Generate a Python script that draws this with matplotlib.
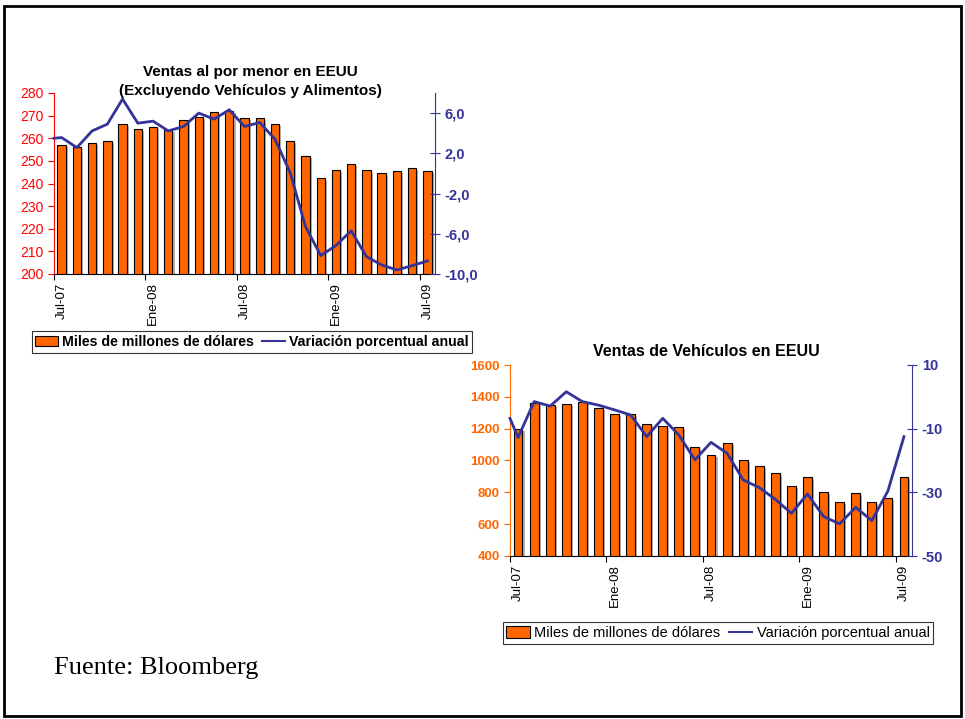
import numpy as np
import matplotlib
matplotlib.use("Agg")
import matplotlib.pyplot as plt
import matplotlib.patheffects as pe
from matplotlib.patches import Rectangle, Patch
from matplotlib.lines import Line2D

plt.rcParams['font.family'] = ['Liberation Sans', 'DejaVu Sans']

# etiquetas del eje x (cada 6 meses)
tick_labels = ['Jul-07', 'Ene-08', 'Jul-08', 'Ene-09', 'Jul-09']

# Ventas al por menor (miles de millones de dólares), Jul-07 .. Jul-09
retail_sales = [257, 256, 258, 259, 266.5, 264, 265, 263.5, 268, 269.5, 271.5, 272,
                269, 269, 266.5, 259, 252, 242.5, 246, 248.5, 246, 244.5, 245.5, 247, 245.5]
# variación porcentual anual (primer punto: borde izquierdo)
retail_yoy = [3.5, 3.57, 2.57, 4.23, 4.9, 7.4, 5.0, 5.2, 4.23, 4.67, 6.0, 5.4, 6.33,
              4.67, 5.07, 3.4, 0.07, -5.27, -8.17, -7.17, -5.7, -8.27, -9.1, -9.6, -9.17, -8.7]

# Ventas de vehículos
vehicle_sales = [1200, 1360, 1350, 1355, 1365, 1330, 1290, 1290, 1230, 1215, 1210, 1085,
                 1032, 1112, 1005, 965, 922, 842, 898, 804, 737, 794, 742, 764, 898]
vehicle_yoy = [-6.75, -12.8, -1.5, -2.9, 1.6, -1.5, -2.6, -4.1, -5.7, -12.5, -6.75, -12.0,
               -19.8, -14.3, -17.7, -26.1, -28.5, -32.2, -36.6, -30.5, -37.6, -39.9, -34.7,
               -38.9, -29.6, -12.5]

W, H = 965, 719
fig = plt.figure(figsize=(W / 100, H / 100), dpi=100)

def box(l, t, r, b):
    return [l / W, 1 - b / H, (r - l) / W, (b - t) / H]

ORANGE = '#FF6600'
BLUE = '#333399'
shadow = [pe.SimplePatchShadow(offset=(1.5, -1.5), shadow_rgbFace='#808080', alpha=0.6), pe.Normal()]


def draw(pos, bars, line, ylim, yticks, y2lim, y2ticks, left_color, left_bold, fmt2):
    n = len(bars)
    x = np.arange(n)
    ax = fig.add_axes(pos)
    ax.bar(x, bars, width=0.55, color=ORANGE, edgecolor='black', linewidth=0.8,
           path_effects=shadow, zorder=2)
    ax.set_xlim(-0.5, n - 0.5)
    ax.set_ylim(*ylim)
    ax.set_yticks(yticks)
    ax.tick_params(axis='y', colors=left_color, length=4, width=0.8, labelsize=10 if not left_bold else 9.5)
    for t in ax.get_yticklabels():
        t.set_fontweight('bold' if left_bold else 'normal')
    ax.spines['left'].set_color(left_color)
    ax.spines['left'].set_linewidth(0.8)
    ax.spines['top'].set_visible(False)
    ax.spines['right'].set_visible(False)
    ax.spines['bottom'].set_linewidth(0.8)
    idx = np.arange(0, n, 6)
    ax.set_xticks(idx - 0.5)
    ax.set_xticklabels([])
    ax.tick_params(axis='x', which='major', length=4, width=0.8)
    ax.set_xticks(idx, minor=True)
    ax.set_xticklabels(tick_labels, minor=True, rotation=90, fontsize=9.5)
    ax.tick_params(axis='x', which='minor', length=0, pad=6)

    ax2 = ax.twinx()
    lx = np.concatenate([[-0.5], x])
    ax2.plot(lx, line, color=BLUE, linewidth=2, clip_on=False)
    ax2.set_ylim(*y2lim)
    ax2.set_yticks(y2ticks)
    ax2.set_yticklabels([fmt2(v) for v in y2ticks], fontweight='bold', fontsize=10.5)
    ax2.tick_params(axis='y', colors=BLUE, direction='inout', length=7, width=0.8)
    for s in ['left', 'top', 'bottom']:
        ax2.spines[s].set_visible(False)
    ax2.spines['right'].set_color(BLUE)
    ax2.spines['right'].set_linewidth(0.8)
    ax.set_zorder(1)
    ax2.set_zorder(2)
    ax2.patch.set_visible(False)
    return ax


draw(box(54, 93, 435, 274), retail_sales, retail_yoy, (200, 280), np.arange(200, 281, 10),
     (-10, 8), [-10, -6, -2, 2, 6], '#FF0000', False,
     lambda v: f"{v:.1f}".replace('.', ','))
draw(box(510, 365, 912, 556), vehicle_sales, vehicle_yoy, (400, 1600), np.arange(400, 1601, 200),
     (-50, 10), [-50, -30, -10, 10], ORANGE, True,
     lambda v: f"{v:d}")

fig.text(250 / W, 1 - 72 / H, 'Ventas al por menor en EEUU', ha='center', va='center',
         fontsize=11, fontweight='bold')
fig.text(250 / W, 1 - 91 / H, '(Excluyendo Vehículos y Alimentos)', ha='center', va='center',
         fontsize=11, fontweight='bold')
fig.text(706 / W, 1 - 352 / H, 'Ventas de Vehículos en EEUU', ha='center', va='center',
         fontsize=11.5, fontweight='bold')

handles = [Patch(facecolor=ORANGE, edgecolor='black', linewidth=0.8),
           Line2D([], [], color=BLUE, linewidth=1.5)]
labels = ['Miles de millones de dólares', 'Variación porcentual anual']
for cx, cy, bold, size in [(252, 342, True, 10.2), (718, 633, False, 10.5)]:
    leg = fig.legend(handles, labels, loc='center', bbox_to_anchor=(cx / W, 1 - cy / H),
                     ncol=2, frameon=True, fancybox=False, borderpad=0.25, handlelength=1.6,
                     handleheight=0.8, handletextpad=0.3, columnspacing=0.6,
                     prop={'size': size, 'weight': 'bold' if bold else 'normal'})
    leg.get_frame().set_edgecolor('black')
    leg.get_frame().set_linewidth(0.8)

fig.text(54 / W, 1 - 668 / H, 'Fuente: Bloomberg', ha='left', va='center', fontsize=19,
         family='Liberation Serif')

fig.add_artist(Rectangle((4 / W, 1 - 716 / H), 957 / W, 710 / H, transform=fig.transFigure,
                         fill=False, edgecolor='black', linewidth=2))

fig.savefig('out.png', dpi=100)
